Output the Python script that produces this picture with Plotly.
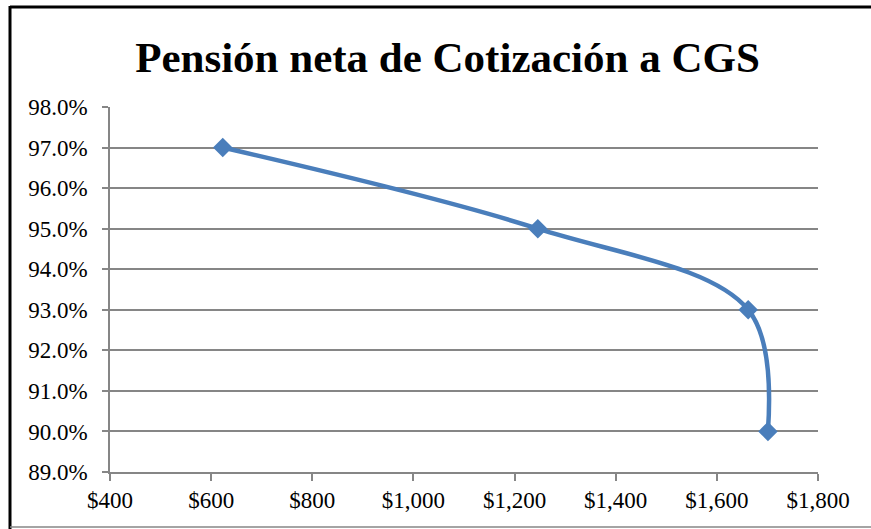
import plotly.graph_objects as go

pension = [623, 1246, 1662, 1701]
cotizacion = [0.97, 0.95, 0.93, 0.90]
title_text = "Pensión neta de Cotización a CGS"

W, H = 871, 529
L, R, T, B = 110, 53, 107, 57
pw, ph = W - L - R, H - T - B

def px_x(p):
    return (p - L) / pw

def px_y(p):
    return (H - B - p) / ph

fig = go.Figure()
fig.add_trace(go.Scatter(
    x=pension, y=cotizacion, mode="lines+markers",
    line=dict(color="#4A7EBB", width=4.5, shape="spline", smoothing=1.0),
    marker=dict(symbol="diamond", size=15, color="#4A7EBB"),
    showlegend=False, cliponaxis=False,
))

font = "Liberation Serif, Times New Roman, serif"
fig.update_layout(
    width=W, height=H,
    margin=dict(l=L, r=R, t=T, b=B),
    paper_bgcolor="white", plot_bgcolor="white",
    font=dict(family=font, color="black", size=23),
    title=dict(text="<b>" + title_text + "</b>", x=px_x(447.5), xref="paper", xanchor="center",
               y=1 - 57 / H, yref="container", yanchor="middle",
               font=dict(family=font, size=43, color="black")),
    xaxis=dict(range=[400, 1800], dtick=200, tick0=400, tickformat="$,",
               showgrid=False, zeroline=False, showline=True, linecolor="#868686", linewidth=1.5,
               ticks="outside", ticklen=7, tickcolor="#868686", tickwidth=1.5,
               ticklabelstandoff=0,
               tickfont=dict(family=font, size=23, color="black")),
    yaxis=dict(range=[0.89, 0.98], dtick=0.01, tick0=0.89, tickformat=".1%",
               showgrid=True, gridcolor="#868686", gridwidth=1.5, zeroline=False,
               showline=True, linecolor="#868686", linewidth=1.5,
               ticks="outside", ticklen=6, tickcolor="#868686", tickwidth=1.5,
               ticklabelstandoff=10,
               tickfont=dict(family=font, size=23, color="black")),
    shapes=[
        dict(type="line", xref="paper", yref="paper", x0=px_x(10), x1=px_x(880), y0=px_y(7), y1=px_y(7),
             line=dict(color="black", width=3)),
        dict(type="line", xref="paper", yref="paper", x0=px_x(10), x1=px_x(10), y0=px_y(6), y1=px_y(540),
             line=dict(color="black", width=3)),
        dict(type="line", xref="paper", yref="paper", x0=px_x(10), x1=px_x(880), y0=px_y(527), y1=px_y(527),
             line=dict(color="#868686", width=1.5)),
    ],
)

fig.write_html("out.html", config={"displayModeBar": False},
               post_script="document.body.style.margin='0';document.body.style.padding='0';")
